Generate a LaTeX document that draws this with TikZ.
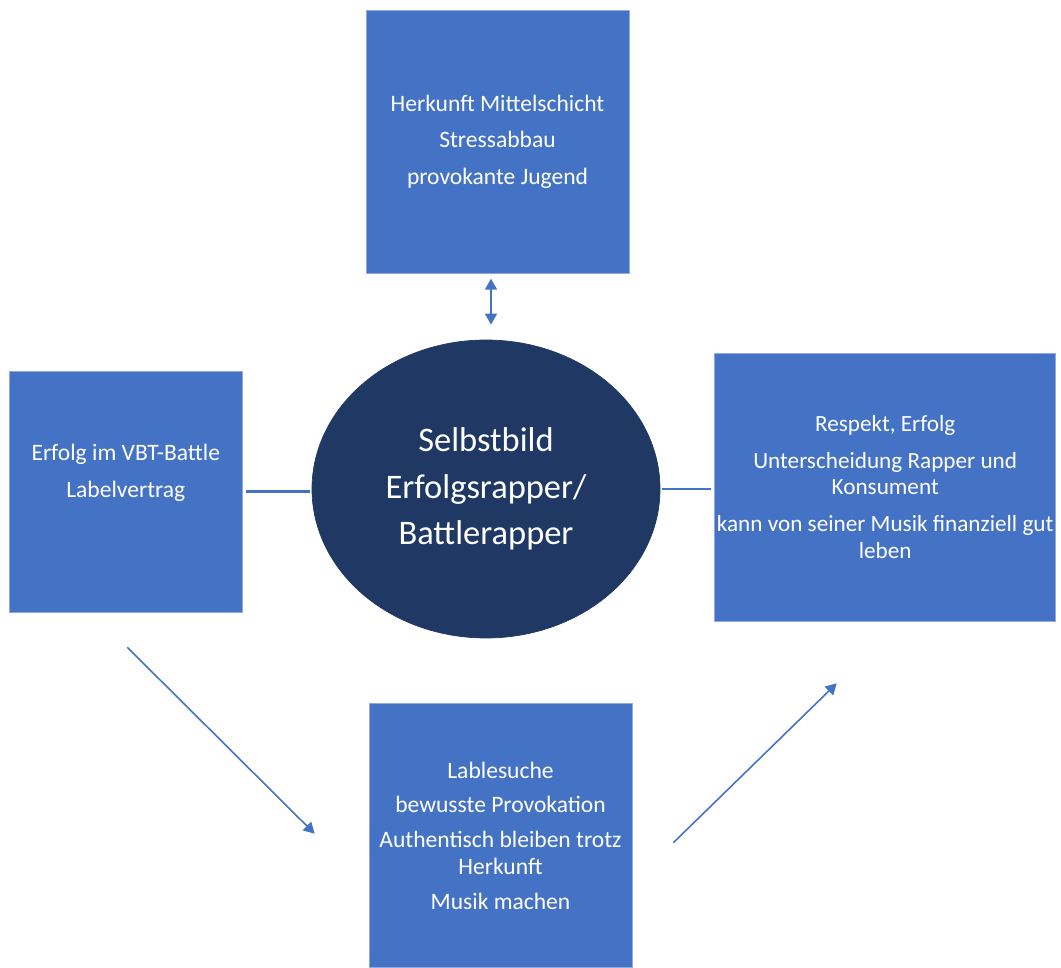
\documentclass[tikz,border=0pt]{standalone}
\usepackage{fontspec}
\setmainfont{Carlito}
\usetikzlibrary{shapes.geometric, positioning, arrows.meta}
\definecolor{boxblue}{HTML}{4472C4}
\definecolor{ellnavy}{HTML}{203864}
\definecolor{edgeblue}{HTML}{8FAADC}
\definecolor{lineblue}{HTML}{4472C4}

\begin{document}
\begin{tikzpicture}[
        font=\fontsize{13.4}{15.3}\selectfont,
        node distance=1.3cm,
        >={Triangle[length=2.2mm,width=2.4mm]},
        box/.style={rectangle, fill=boxblue, draw=edgeblue, line width=0.4pt, text=white, align=center, inner sep=0.5pt},
        self/.style={ellipse, fill=ellnavy, draw=ellnavy, text=white, align=center, minimum width=6.96cm, minimum height=5.96cm, font=\fontsize{19.6}{26.3}\selectfont},
        link/.style={draw=lineblue, line width=1.5pt},
        flow/.style={draw=lineblue, line width=0.9pt, ->},
      ]
        \useasboundingbox (0,0) rectangle (21.22,19.34);

        \node[self] (ell) at (9.72,9.56) {Selbstbild\\Erfolgsrapper/\\Battlerapper};

        \node[box, minimum width=5.26cm, minimum height=5.26cm, above=1.32cm of ell, xshift=0.23cm] (top) {Herkunft Mittelschicht\\[5.4pt]Stressabbau\\[5.4pt]provokante Jugend};
        \node[box, minimum width=4.66cm, minimum height=4.82cm, left=1.38cm of ell, yshift=-0.05cm,
              label={[text=white, align=center, yshift=0.37cm]center:Erfolg im VBT-Battle\\[5.4pt]Labelvertrag}] (left) {};
        \node[box, font=\fontsize{13.2}{15.3}\selectfont, minimum width=6.82cm, minimum height=5.36cm, right=1.08cm of ell, yshift=0.04cm] (right) {Respekt, Erfolg\\[5.4pt]Unterscheidung Rapper und\\Konsument\\[5.4pt]kann von seiner Musik finanziell gut\\leben};
        \node[box, minimum width=5.26cm, minimum height=5.28cm, below=1.30cm of ell, xshift=0.29cm] (bottom) {Lablesuche\\[4.5pt]bewusste Provokation\\[4.5pt]Authentisch bleiben trotz\\Herkunft\\[4.5pt]Musik machen};

        \coordinate (d1s) at ([xshift=0.03cm, yshift=-0.70cm]left.south);
        \coordinate (d1e) at ([xshift=-1.08cm, yshift=0.04cm]bottom.west);
        \coordinate (d2s) at ([xshift=0.82cm, yshift=-0.14cm]bottom.east);
        \coordinate (d2e) at ([xshift=-0.97cm, yshift=-1.24cm]right.south);

        \draw[draw=lineblue, line width=0.9pt, <->, shorten <=1mm, shorten >=3mm] ([xshift=-1.3mm]top.south) -- ([xshift=-1.3mm]top.south |- ell.north);
        \draw[link, shorten <=0.6mm, shorten >=0.4mm] (left.east) -- (left.east -| ell.west);
        \draw[link, shorten <=0.4mm, shorten >=0.6mm] (ell.east) -- (ell.east -| right.west);
        \draw[flow] (d1s) -- (d1e);
        \draw[flow] (d2s) -- (d2e);
      \end{tikzpicture}
\end{document}
